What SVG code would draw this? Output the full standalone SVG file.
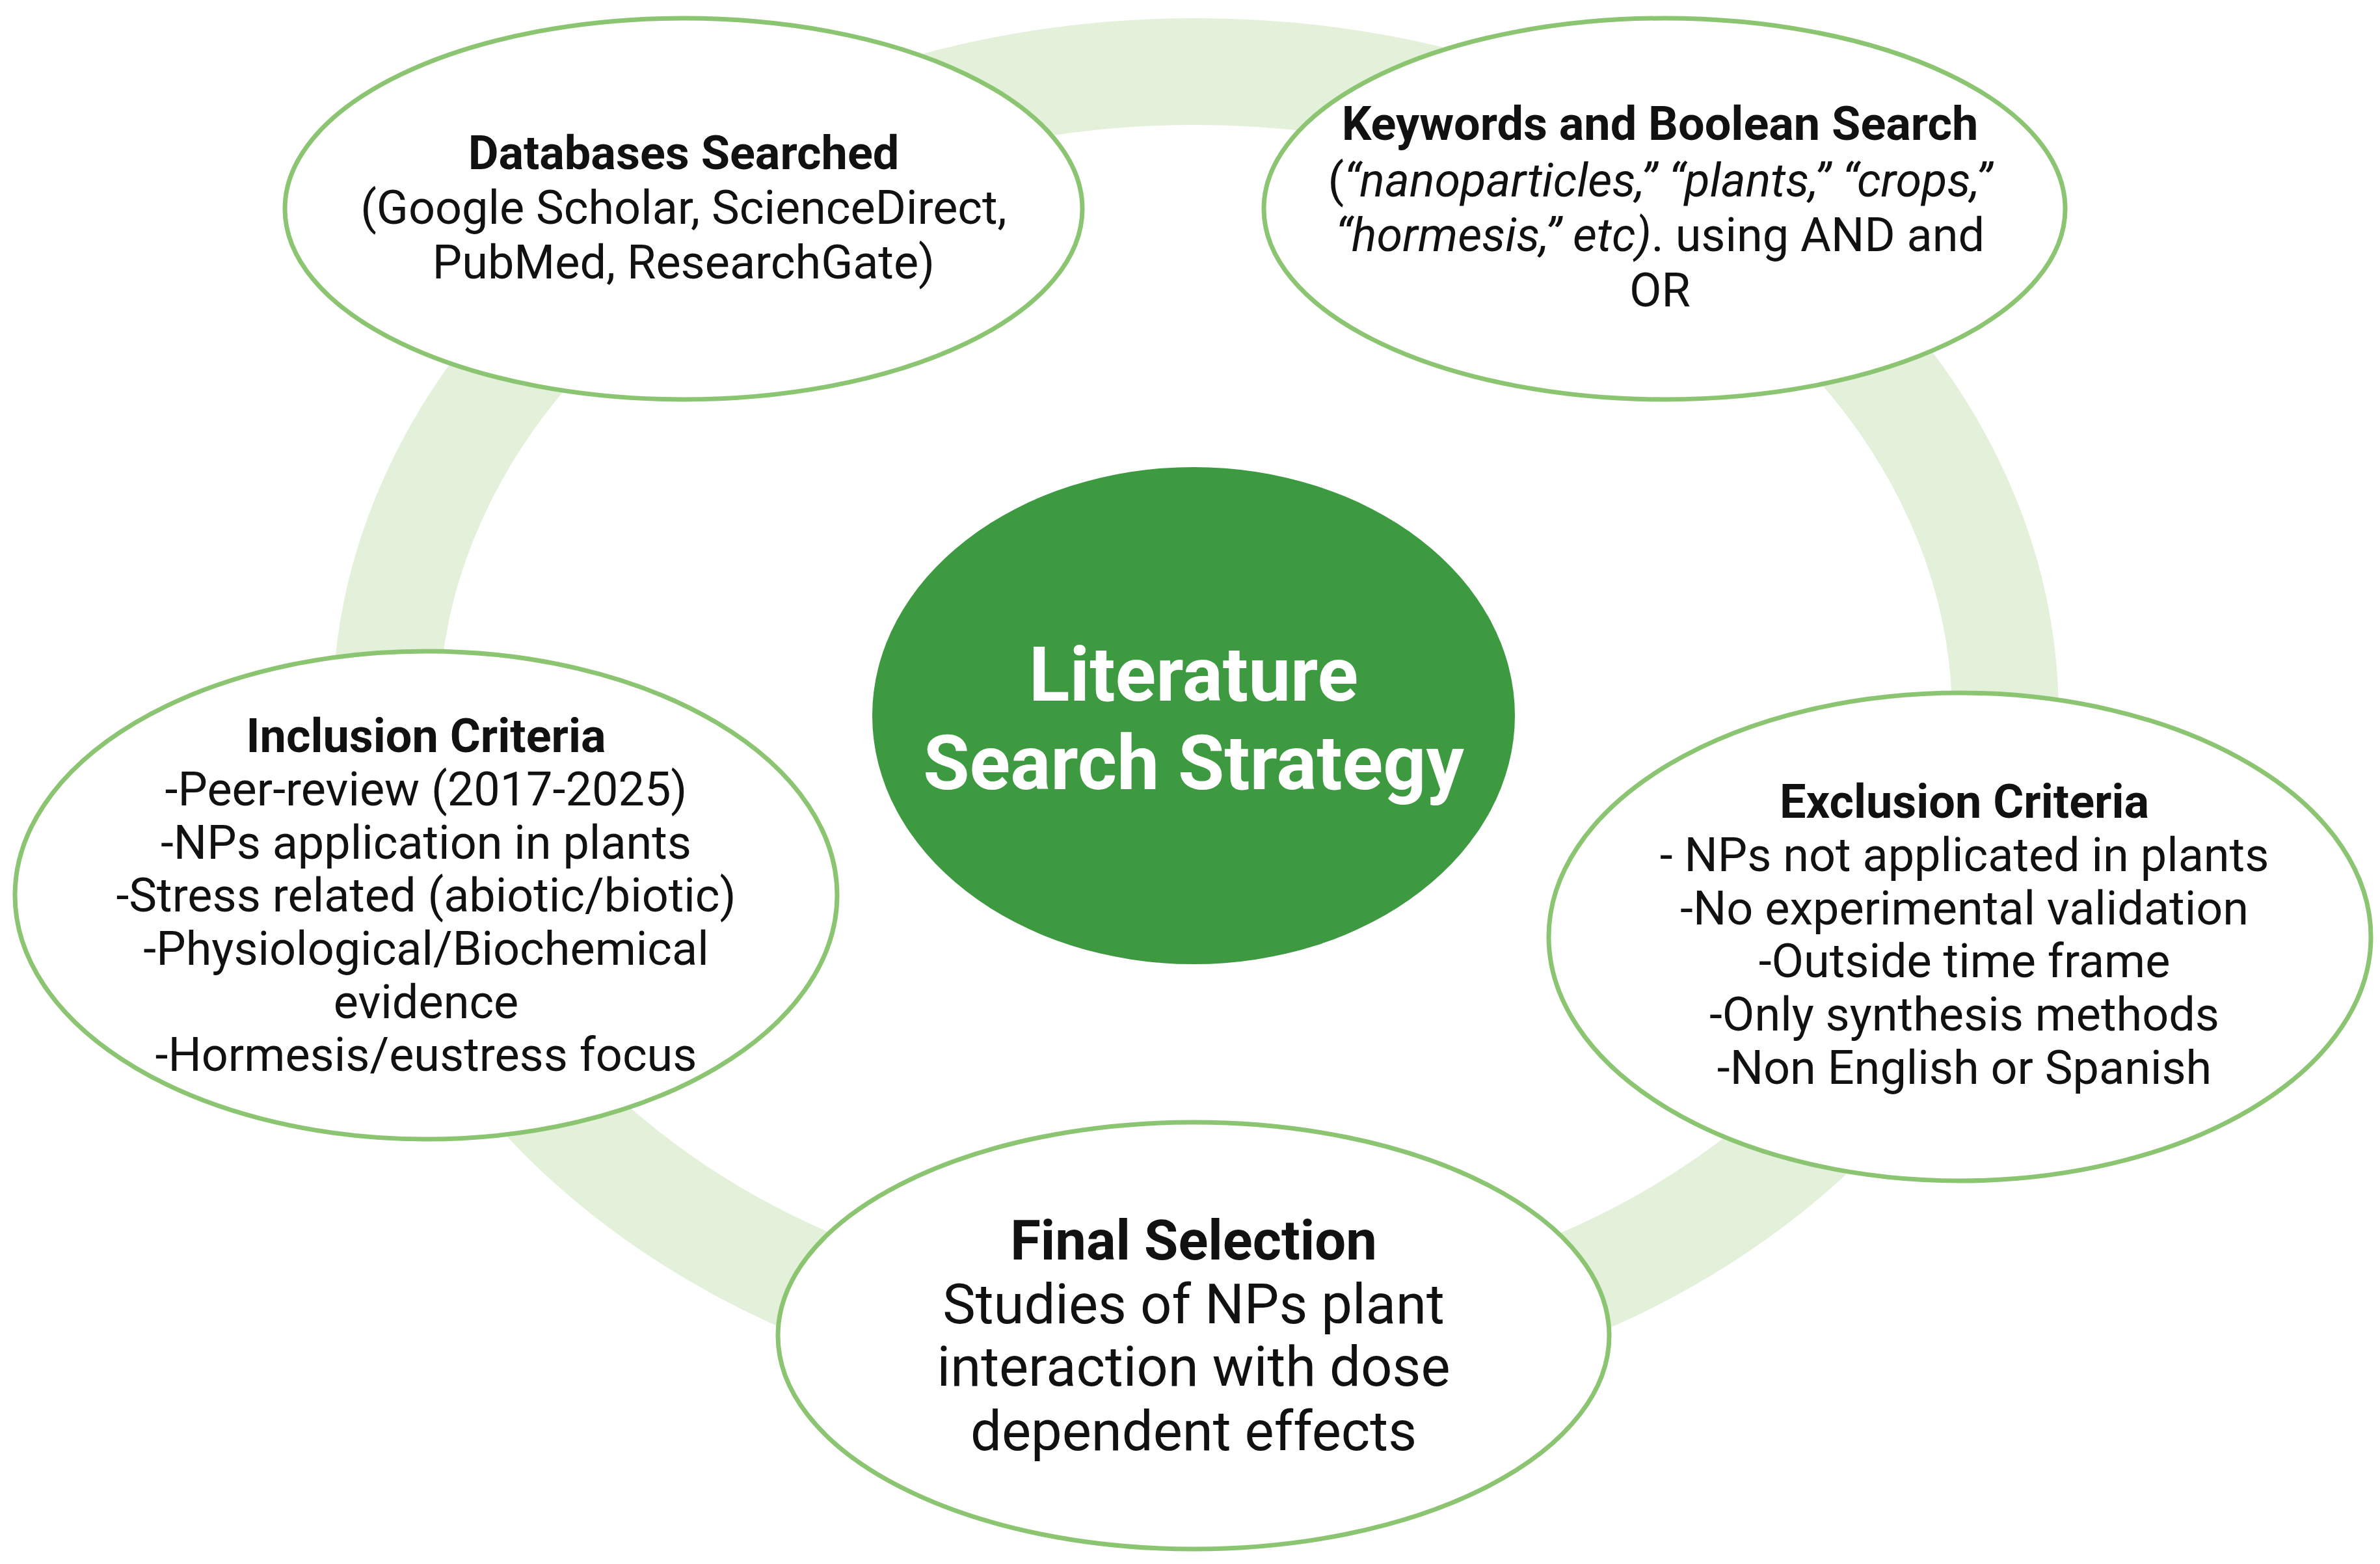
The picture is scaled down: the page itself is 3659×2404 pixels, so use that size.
<svg xmlns="http://www.w3.org/2000/svg" width="3659" height="2404" viewBox="0 0 3659 2404">
<style>
.n{fill:#fff;stroke:#8cc572;stroke-width:7}
text{font-family:Roboto,"Liberation Sans",sans-serif;fill:#111;text-anchor:middle;font-size:72px}
.b{font-weight:bold}
.i{font-style:italic}
.f{font-size:85px}
.c{fill:#fff;font-weight:bold;font-size:116px}
</style>
<rect width="3659" height="2404" fill="#fff"/>
<g id="connectors">
<ellipse cx="1838" cy="1100" rx="1245" ry="990" fill="none" stroke="#e3f0da" stroke-width="164"/>
</g>
<g id="databases">
<ellipse class="n" cx="1051" cy="321" rx="613" ry="293"/>
<text class="b" x="1051" y="260">Databases Searched</text>
<text x="1051" y="344">(Google Scholar, ScienceDirect,</text>
<text x="1051" y="428">PubMed, ResearchGate)</text>
</g>
<g id="keywords">
<ellipse class="n" cx="2559" cy="321" rx="616" ry="293"/>
<text class="b" x="2552" y="215">Keywords and Boolean Search</text>
<text x="2552" y="302">(<tspan class="i">“nanoparticles,” “plants,” “crops,”</tspan></text>
<text x="2552" y="386"><tspan class="i">“hormesis,”  etc)</tspan>. using AND and</text>
<text x="2552" y="471">OR</text>
</g>
<g id="center">
<ellipse cx="1835" cy="1100" rx="494" ry="382" fill="#3d9a40"/>
<text class="c" x="1835" y="1077">Literature</text>
<text class="c" x="1835" y="1213">Search Strategy</text>
</g>
<g id="inclusion">
<ellipse class="n" cx="655" cy="1376" rx="632" ry="375"/>
<text class="b" x="655" y="1156">Inclusion Criteria</text>
<text x="655" y="1238">-Peer-review (2017-2025)</text>
<text x="655" y="1320">-NPs application in plants</text>
<text x="655" y="1401">-Stress related (abiotic/biotic)</text>
<text x="655" y="1483">-Physiological/Biochemical</text>
<text x="655" y="1565">evidence</text>
<text x="655" y="1646">-Hormesis/eustress focus</text>
</g>
<g id="exclusion">
<ellipse class="n" cx="3013" cy="1440" rx="632" ry="375"/>
<text class="b" x="3020" y="1257">Exclusion Criteria</text>
<text x="3020" y="1339">- NPs not applicated in plants</text>
<text x="3020" y="1421">-No experimental validation</text>
<text x="3020" y="1502">-Outside time frame</text>
<text x="3020" y="1584">-Only synthesis methods</text>
<text x="3020" y="1666">-Non English or Spanish</text>
</g>
<g id="final">
<ellipse class="n" cx="1835" cy="2053" rx="639" ry="328"/>
<text class="b f" x="1835" y="1936">Final Selection</text>
<text class="f" x="1835" y="2034">Studies of NPs plant</text>
<text class="f" x="1835" y="2130">interaction with dose</text>
<text class="f" x="1835" y="2229">dependent effects</text>
</g>
</svg>
